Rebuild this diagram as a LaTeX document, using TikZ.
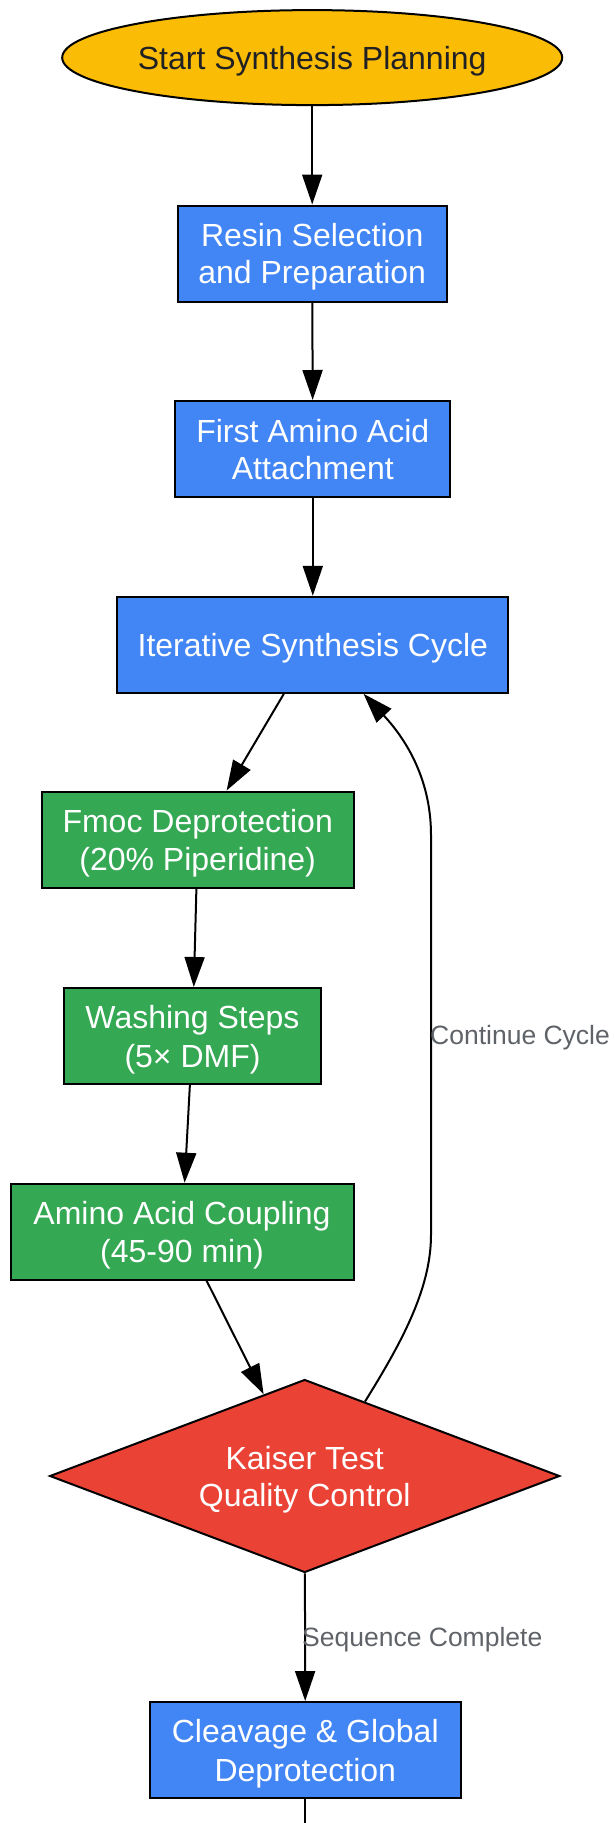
\documentclass[tikz,border=0pt]{standalone}
\usepackage{fontspec}
\setmainfont{Liberation Sans}
\usetikzlibrary{shapes.geometric,arrows.meta}
\definecolor{gyellow}{HTML}{FBBC05}
\definecolor{gblue}{HTML}{4285F4}
\definecolor{ggreen}{HTML}{34A853}
\definecolor{gred}{HTML}{EA4335}
\definecolor{gdark}{HTML}{202124}
\definecolor{ggray}{HTML}{5F6368}
\newcommand\gvs{\rule[-6.5pt]{0pt}{37pt}}
\begin{document}
\begin{tikzpicture}[x=1pt,y=-1pt,
  every node/.style={font=\fontsize{32}{37}\selectfont, align=center, inner sep=0pt},
  box/.style={draw=black, line width=2pt, rectangle, minimum height=96pt, text=white},
  flow/.style={draw=black, line width=2pt, -{Triangle[length=30pt,width=20pt]}},
  elabel/.style={font=\fontsize{26.5}{30}\selectfont, text=ggray, anchor=west}]
\useasboundingbox (0,0) rectangle (614,1823);
\node[ellipse, draw=black, line width=2pt, fill=gyellow, text=gdark, minimum width=500pt, minimum height=95pt] (start) at (312.2,57.6) {Start Synthesis Planning\gvs};
\node[box, fill=gblue, minimum width=269pt] (resin) at (312.2,253.5) {Resin Selection\gvs\\and Preparation\gvs};
\node[box, fill=gblue, minimum width=275pt] (first) at (312.8,449) {First Amino Acid\gvs\\Attachment\gvs};
\node[box, fill=gblue, minimum width=391pt] (iter) at (312.8,644.8) {Iterative Synthesis Cycle\gvs};
\node[box, fill=ggreen, minimum width=312pt] (fmoc) at (197.7,839.5) {Fmoc Deprotection\gvs\\(20\% Piperidine)\gvs};
\node[box, fill=ggreen, minimum width=257pt] (wash) at (192.5,1036) {Washing Steps\gvs\\(5× DMF)\gvs};
\node[box, fill=ggreen, minimum width=343pt] (coup) at (182,1231.7) {Amino Acid Coupling\gvs\\(45-90 min)\gvs};
\node[diamond, aspect=2.64, draw=black, line width=2pt, fill=gred, text=white, minimum width=510pt, minimum height=193pt] (kaiser) at (304.7,1476) {Kaiser Test\gvs\\Quality Control\gvs};
\node[box, fill=gblue, minimum width=311pt] (cleave) at (305.3,1750) {Cleavage \& Global\gvs\\Deprotection\gvs};
\coordinate (out) at (305.3,1823);
\draw[flow] (start) -- (resin);
\draw[flow] (resin) -- (first);
\draw[flow] (first) -- (iter);
\draw[flow] (iter) -- (fmoc);
\draw[flow] (fmoc) -- (wash);
\draw[flow] (wash) -- (coup);
\draw[flow] (coup) -- (kaiser);
\draw[flow] (kaiser.51) .. controls (400,1345) and (431,1290) .. (431,1235) -- (431,835) .. controls (431,775) and (402,735) .. (iter.-44.4);
\node[elabel] (lblcont) at (430,1038) {Continue Cycle};
\draw[flow] (kaiser) -- (cleave);
\node[elabel] (lblseq) at (302,1640) {Sequence Complete};
\draw[line width=2pt] (cleave) -- (out);
\end{tikzpicture}
\end{document}
